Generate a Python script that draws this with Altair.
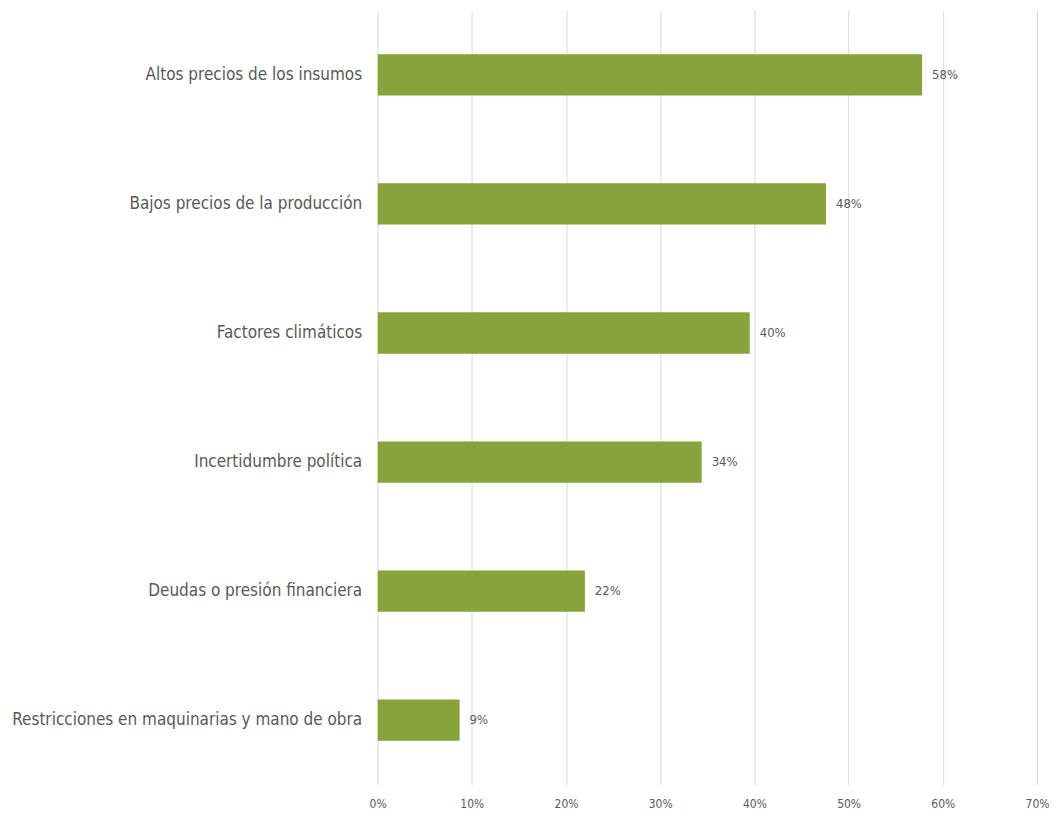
import altair as alt
import pandas as pd

categories = [
    "Altos precios de los insumos",
    "Bajos precios de la producción",
    "Factores climáticos",
    "Incertidumbre política",
    "Deudas o presión financiera",
    "Restricciones en maquinarias y mano de obra",
]
values = [0.578, 0.476, 0.395, 0.344, 0.22, 0.087]
labels = ["58%", "48%", "40%", "34%", "22%", "9%"]

df = pd.DataFrame({"cat": categories, "val": values, "lab": labels})

FONT = "Liberation Sans Narrow, DejaVu Sans Condensed, sans-serif"
GRAY = "#595959"

y = alt.Y("cat:N", sort=categories, title=None,
          scale=alt.Scale(paddingInner=0.68, paddingOuter=0.34),
          axis=alt.Axis(labelFont=FONT, labelFontSize=17, labelColor=GRAY,
                        labelPadding=16, ticks=False, domain=False, labelLimit=500))
x = alt.X("val:Q", title=None,
          scale=alt.Scale(domain=[0, 0.7], nice=False),
          axis=alt.Axis(format=".0%", values=[0, 0.1, 0.2, 0.3, 0.4, 0.5, 0.6, 0.7],
                        labelFont=FONT, labelFontSize=12, labelColor=GRAY,
                        labelPadding=14, labelFlush=False, ticks=False, domain=False,
                        grid=True, gridColor="#D9D9D9", gridWidth=1))

bars = alt.Chart(df).mark_bar(color="#86A43B").encode(y=y, x=x)
text = alt.Chart(df).mark_text(align="left", dx=10, font=FONT, fontSize=13, color=GRAY).encode(
    y=alt.Y("cat:N", sort=categories), x="val:Q", text="lab:N")

chart = (bars + text).properties(
    width=660, height=775,
    padding={"top": 2, "left": 3, "right": 0, "bottom": 0},
).configure_view(stroke=None)

chart.save("out.html", embed_options={"renderer": "svg", "actions": False})
